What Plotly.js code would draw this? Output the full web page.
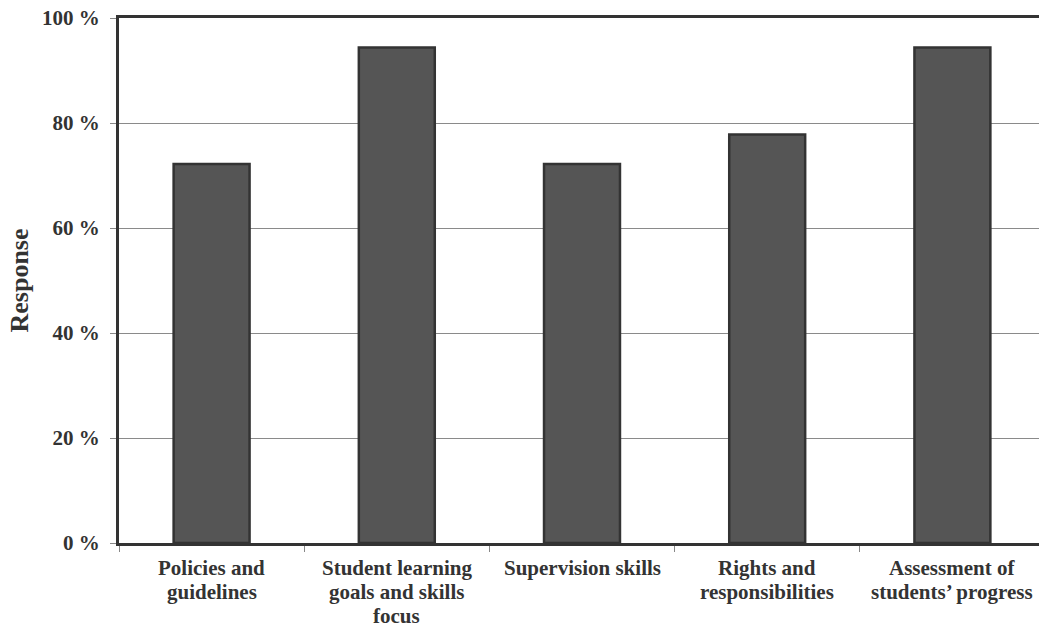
<!DOCTYPE html>
<html>
<head>
<meta charset="utf-8">
<script src="https://cdn.plot.ly/plotly-3.0.1.min.js"></script>
<style>
  html, body { margin: 0; padding: 0; overflow: hidden; background: #fff; }
  #chart { width: 1045px; height: 628px; }
</style>
</head>
<body>
<div id="chart"></div>
<script>
// Training topics and the share of respondents for each
const categories = [
  "Policies and<br>guidelines",
  "Student learning<br>goals and skills<br>focus",
  "Supervision skills",
  "Rights and<br>responsibilities",
  "Assessment of<br>students’ progress"
];
const responsePct = [72.2, 94.4, 72.2, 77.8, 94.4];
const yTickValues = [0, 20, 40, 60, 80, 100];
const yTickLabels = ["0 %", "20 %", "40 %", "60 %", "80 %", "100 %"];

const serif = "Liberation Serif, Times New Roman, serif";
const ink = "#333333";

const trace = {
  type: "bar",
  x: categories,
  y: responsePct,
  marker: { color: "#555555", line: { color: ink, width: 2.5 } },
  hoverinfo: "skip"
};

// Category labels are set line by line so the line spacing can be tighter
// than the built-in tick label spacing.
const lineGap = 24;
const firstLineShift = -25;
const labelAnnotations = [];
categories.forEach(cat => {
  cat.split("<br>").forEach((line, i) => {
    labelAnnotations.push({
      x: cat,
      xref: "x",
      y: 0,
      yref: "paper",
      yanchor: "middle",
      xanchor: "center",
      yshift: firstLineShift - i * lineGap,
      text: line,
      showarrow: false,
      borderpad: 0,
      font: { family: serif, size: 21, color: ink, weight: "bold" }
    });
  });
});

const layout = {
  width: 1045,
  height: 628,
  margin: { l: 119, r: 0, t: 18, b: 85 },
  paper_bgcolor: "#ffffff",
  plot_bgcolor: "#ffffff",
  showlegend: false,
  bargap: 0.59,
  font: { family: serif, color: ink },
  xaxis: {
    type: "category",
    tickson: "boundaries",
    ticks: "outside",
    ticklen: 6,
    tickcolor: "#888888",
    tickwidth: 1,
    showline: true,
    linecolor: ink,
    linewidth: 3,
    mirror: true,
    showgrid: false,
    showticklabels: false
  },
  yaxis: {
    range: [0, 100],
    tickvals: yTickValues,
    ticktext: yTickLabels,
    ticks: "outside",
    ticklen: 6,
    tickcolor: "#888888",
    tickwidth: 1,
    showline: true,
    linecolor: ink,
    linewidth: 3,
    showgrid: true,
    gridcolor: "#8a8a8a",
    gridwidth: 1,
    zeroline: false,
    tickfont: { family: serif, size: 21, color: ink, weight: "bold" },
    ticklabelstandoff: 6,
    title: {
      text: "Response",
      font: { family: serif, size: 26, color: ink, weight: "bold" },
      standoff: 6
    }
  },
  annotations: labelAnnotations
};

Plotly.newPlot("chart", [trace], layout, { staticPlot: true, displayModeBar: false });
</script>
</body>
</html>
